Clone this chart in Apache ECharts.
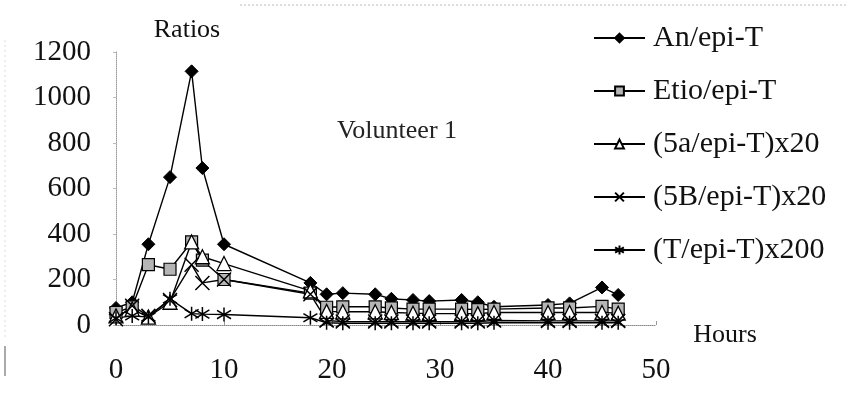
<!DOCTYPE html>
<html>
<head>
<meta charset="utf-8">
<script src="https://cdn.jsdelivr.net/npm/echarts@6/dist/echarts.min.js"></script>
<style>html,body{margin:0;padding:0;background:#fff;}#c{width:848px;height:419px;}</style>
</head>
<body>
<div id="c"></div>
<script>
const hours = [0, 1.5, 3, 5, 7, 8, 10, 18, 19.5, 21, 24, 25.5, 27.5, 29, 32, 33.5, 35, 40, 42, 45, 46.5];
const anEpiT   = [75, 100, 355, 650, 1115, 690, 355, 185, 135, 140, 135, 115, 110, 105, 110, 100, 80, 88, 95, 165, 132];
const etioEpiT = [55, 80, 265, 245, 365, 285, 200, 140, 78, 80, 80, 75, 70, 70, 70, 68, 70, 75, 75, 82, 70];
const a5EpiT   = [40, 70, 35, 100, 365, 300, 270, 150, 60, 58, 58, 55, 52, 50, 50, 50, 55, 55, 55, 55, 52];
const b5EpiT   = [25, 85, 40, 110, 265, 185, 200, 135, 20, 15, 15, 15, 15, 15, 15, 15, 20, 18, 18, 18, 18];
const tEpiT    = [30, 40, 35, 115, 50, 48, 46, 32, 10, 8, 8, 8, 8, 8, 8, 8, 10, 10, 10, 10, 10];
const seriesNames = ['An/epi-T', 'Etio/epi-T', '(5a/epi-T)x20', '(5B/epi-T)x20', '(T/epi-T)x200'];
const xTicks = [0, 10, 20, 30, 40, 50];
const yTicks = [0, 200, 400, 600, 800, 1000, 1200];

const serif = '"Liberation Serif","DejaVu Serif",serif';
const pairs = arr => hours.map((h, i) => [h, arr[i]]);
const crossPath = 'path://M0,0 L10,10 M10,0 L0,10';
const starPath = 'path://M5,0 L5,10 M0,2 L10,8 M0,8 L10,2';

function mk(name, data, symbol, size, style) {
  return {
    name, type: 'line', data: pairs(data), symbol, symbolSize: size,
    lineStyle: { color: '#000', width: 1.4 },
    itemStyle: style,
    emphasis: { disabled: true },
    animation: false
  };
}

const chart = echarts.init(document.getElementById('c'), null, { renderer: 'canvas' });
chart.setOption({
  backgroundColor: '#fff',
  animation: false,
  grid: { left: 116, right: 192, top: 52, bottom: 94, containLabel: false },
  xAxis: {
    type: 'value', min: xTicks[0], max: xTicks[xTicks.length - 1], interval: 10,
    axisLine: { show: true, lineStyle: { color: '#888', type: 'dotted', width: 1 } },
    axisTick: { show: true, inside: true, length: 4, lineStyle: { color: '#999' } },
    splitLine: { show: false },
    axisLabel: { margin: 31, fontFamily: serif, fontSize: 29, color: '#111', formatter: v => String(v) }
  },
  yAxis: {
    type: 'value', min: yTicks[0], max: yTicks[yTicks.length - 1], interval: 200,
    axisLine: { show: true, lineStyle: { color: '#999', type: 'dotted', width: 1 } },
    axisTick: { show: true, inside: false, length: 3, lineStyle: { color: '#bbb' } },
    splitLine: { show: false },
    axisLabel: { margin: 25, fontFamily: serif, fontSize: 29, color: '#111', formatter: v => String(v) }
  },
  legend: {
    orient: 'vertical', left: 593, top: 23, padding: 0,
    itemWidth: 51, itemHeight: 11, itemGap: 23,
    textStyle: { fontFamily: serif, fontSize: 30, color: '#111', lineHeight: 30, padding: [0, 0, 0, 3] },
    data: seriesNames
  },
  graphic: [
    { type: 'text', x: 187, y: 30, style: { text: 'Ratios', font: '26px ' + serif, fill: '#111', align: 'center', verticalAlign: 'middle' } },
    { type: 'text', x: 397, y: 131, style: { text: 'Volunteer 1', font: '26px ' + serif, fill: '#222', align: 'center', verticalAlign: 'middle' } },
    { type: 'text', x: 725, y: 335, style: { text: 'Hours', font: '26px ' + serif, fill: '#111', align: 'center', verticalAlign: 'middle' } },
    { type: 'line', shape: { x1: 240, y1: 5, x2: 848, y2: 5 }, style: { stroke: '#bbb', lineWidth: 1, lineDash: [2, 2] } },
    { type: 'line', shape: { x1: 5, y1: 40, x2: 5, y2: 340 }, style: { stroke: '#ddd', lineWidth: 1, lineDash: [2, 3] } },
    { type: 'line', shape: { x1: 5, y1: 346, x2: 5, y2: 376 }, style: { stroke: '#555', lineWidth: 1 } }
  ],
  series: [
    mk(seriesNames[0], anEpiT, 'diamond', 13, { color: '#000', borderColor: '#000', borderWidth: 1 }),
    mk(seriesNames[1], etioEpiT, 'rect', 12, { color: '#b5b5b5', borderColor: '#000', borderWidth: 1.2 }),
    mk(seriesNames[2], a5EpiT, 'triangle', 14, { color: '#fff', borderColor: '#000', borderWidth: 1.3 }),
    mk(seriesNames[3], b5EpiT, crossPath, 14, { color: 'rgba(0,0,0,0)', borderColor: '#000', borderWidth: 1.5 }),
    mk(seriesNames[4], tEpiT, starPath, 14, { color: 'rgba(0,0,0,0)', borderColor: '#000', borderWidth: 1.5 })
  ]
});
</script>
</body>
</html>
